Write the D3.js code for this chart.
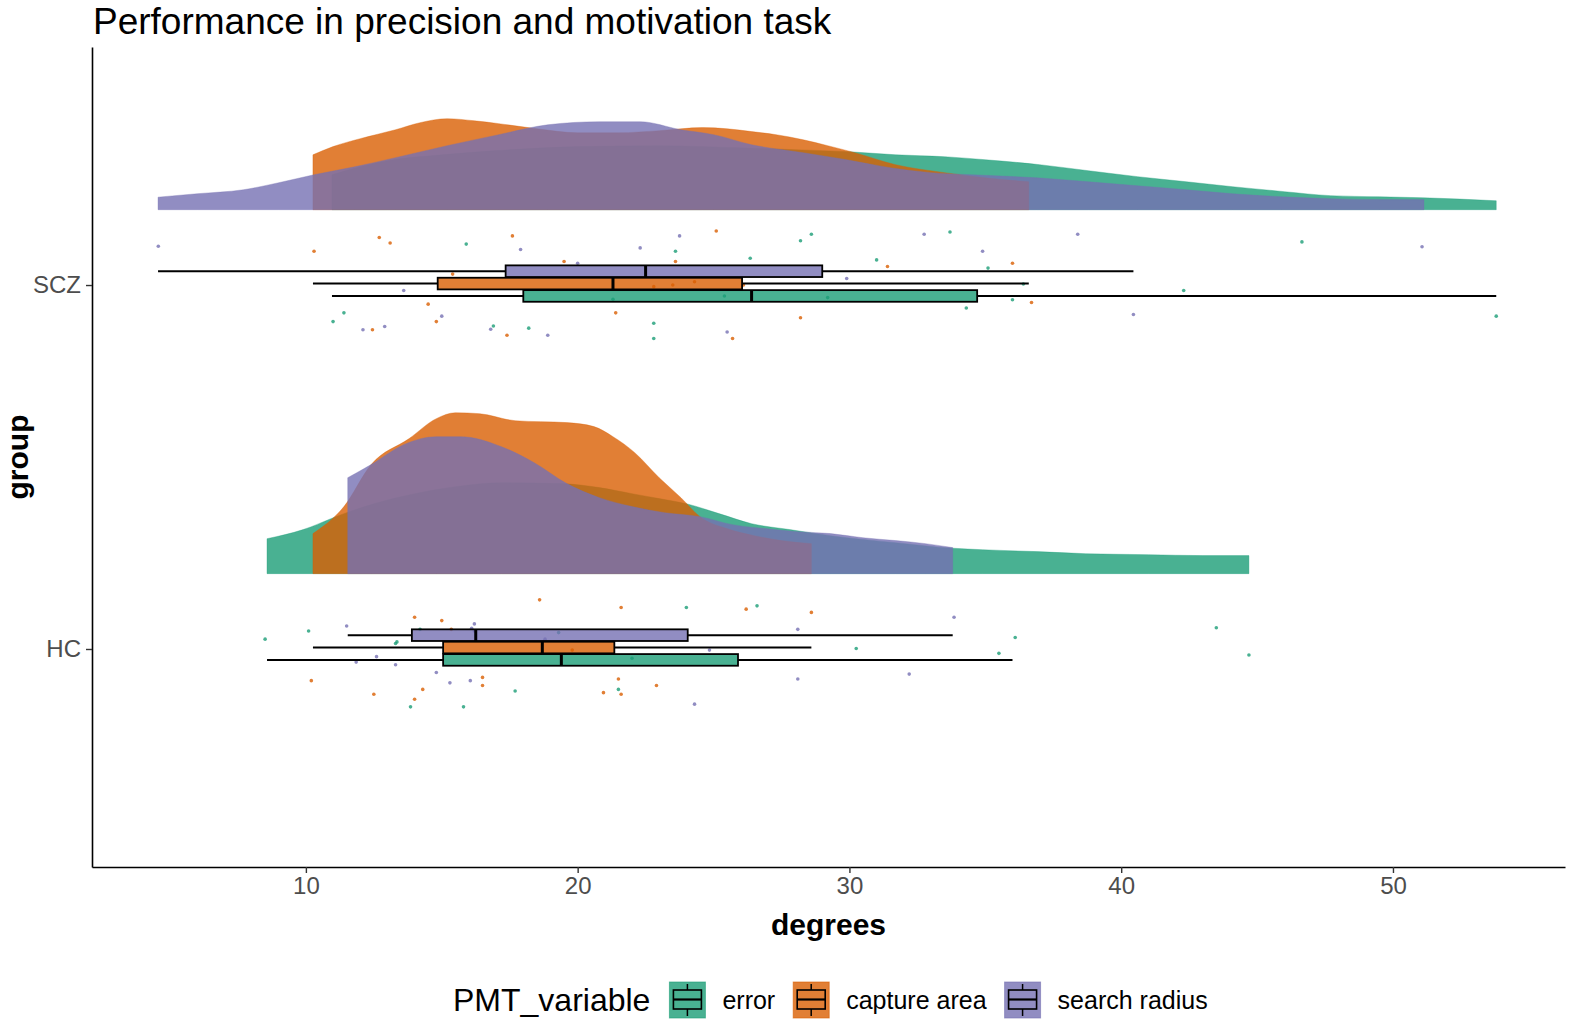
<!DOCTYPE html>
<html><head><meta charset="utf-8">
<script src="https://cdn.jsdelivr.net/npm/d3@7/dist/d3.min.js"></script>
<style>
body{margin:0;background:#fff}
svg{display:block}
text{font-family:"Liberation Sans",Arial,sans-serif}
</style>
</head><body>
<svg id="c" width="1579" height="1030"></svg>
<script>
// ---------- data ----------
const groups = ["HC", "SCZ"];
const variables = ["error", "capture area", "search radius"];
const colors = ["#1B9E77", "#D95F02", "#7570B3"];
const xTicks = [10, 20, 30, 40, 50];

// density knots: [degrees, density (% per degree)]
const densSCZ_error = [[10.96,1.84],[12,2.26],[13,2.58],[15,2.89],[17,3.11],[20,3.32],[23,3.37],[26,3.26],[28,3.16],[30,3.05],[31.7,2.89],[33.5,2.79],[35,2.63],[37,2.37],[38.8,2.05],[40.6,1.74],[42.4,1.47],[44.1,1.21],[46,0.95],[47.7,0.74],[49.5,0.68],[51.1,0.63],[53.8,0.47]];
const densSCZ_capture = [[10.26,2.89],[11,3.32],[12,3.74],[13.3,4.21],[14.2,4.58],[15.2,4.79],[16.2,4.68],[17.1,4.53],[18.5,4.26],[20,4.05],[21.5,4.05],[23,4.16],[24.6,4.32],[25.5,4.26],[26.4,4.11],[27.3,3.95],[28.3,3.68],[29.2,3.37],[30.2,3.00],[31.7,2.37],[33.5,1.95],[35,1.68],[36.6,1.47]];
const densSCZ_radius = [[4.56,0.66],[6,0.84],[7.7,1.05],[9,1.42],[10.3,1.84],[11.8,2.26],[13.3,2.74],[15.2,3.37],[17.1,3.95],[18.9,4.47],[20.8,4.63],[22.3,4.63],[23.8,4.21],[25,3.95],[26.4,3.42],[28.3,3.00],[29.9,2.63],[31.5,2.21],[33,1.95],[34.5,1.84],[36.9,1.68],[38.8,1.47],[40.6,1.26],[42.4,1.05],[44.1,0.84],[45.9,0.68],[47.7,0.58],[49.5,0.53],[51.14,0.53]];
const densHC_error = [[8.57,1.84],[9.9,2.32],[10.2,2.47],[11.1,3.00],[12.5,3.68],[14,4.21],[15.5,4.58],[17.2,4.79],[19.4,4.74],[20.8,4.53],[22,4.21],[23,3.95],[24,3.68],[25.2,3.16],[26.4,2.63],[27.8,2.32],[29.3,2.00],[31.7,1.63],[33.8,1.34],[34.9,1.26],[36.9,1.16],[38.7,1.05],[41,1.00],[43,0.95],[44.7,0.95]];
const densHC_capture = [[10.26,2.11],[11.4,3.53],[12.4,5.74],[13.8,7.11],[14.8,8.16],[15.5,8.47],[16.4,8.42],[17.7,8.05],[19.6,7.95],[20.6,7.74],[21.3,7.21],[22.1,6.37],[23.0,5.05],[23.8,4.00],[24.5,3.00],[25.5,2.37],[26.5,2.00],[27.5,1.74],[28.6,1.58]];
const densHC_radius = [[11.54,5.05],[12.4,5.74],[13.6,6.79],[14.8,7.21],[15.7,7.21],[17.2,6.68],[18.4,5.84],[19.6,4.74],[20.8,4.00],[22.0,3.53],[23.2,3.21],[24.5,3.00],[25.7,2.58],[26.9,2.37],[28.1,2.21],[29.3,2.11],[30.5,1.89],[31.7,1.74],[32.8,1.58],[33.8,1.37]];

// boxplot stats: [min, q1, median, q3, max]
const boxSCZ_error   = [10.96, 18.0, 26.4, 34.7, 53.8];
const boxSCZ_capture = [10.26, 14.85, 21.3, 26.05, 36.6];
const boxSCZ_radius  = [4.56, 17.35, 22.5, 29.0, 40.45];
const boxHC_error    = [8.57, 15.05, 19.4, 25.9, 36.0];
const boxHC_capture  = [10.26, 15.05, 18.7, 21.35, 28.6];
const boxHC_radius   = [11.54, 13.9, 16.25, 24.05, 33.8];

// raw observations: [degrees, jitter (-1..1)]
const ptsSCZ_error = [[15.9,0.75],[23.6,0.62],[11.4,-0.51],[11.0,-0.67],[16.9,-0.75],[18.2,-0.79],[22.8,-0.70],[22.8,-0.98],[21.3,-0.26],[28.2,0.81],[28.6,0.93],[33.7,0.97],[26.35,0.49],[31.0,0.46],[35.1,0.31],[36.4,0.02],[36.0,-0.27],[34.3,-0.42],[42.3,-0.10],[25.4,-0.20],[29.2,-0.23],[46.65,0.79],[53.8,-0.57]];
const ptsSCZ_capture = [[10.3,0.62],[12.7,0.87],[13.1,0.77],[17.6,0.90],[19.5,0.43],[23.6,0.43],[15.4,0.20],[14.5,-0.35],[12.45,-0.82],[14.8,-0.67],[17.4,-0.92],[21.4,-0.51],[22.8,-0.03],[23.5,0.0],[25.1,0.99],[31.4,0.34],[36.0,0.40],[36.7,-0.32],[28.2,-0.60],[25.7,-0.98],[24.3,0.06],[26.1,0.0]];
const ptsSCZ_radius = [[4.57,0.71],[17.9,0.65],[20.0,0.40],[22.3,0.68],[23.75,0.90],[13.6,-0.10],[12.1,-0.82],[12.9,-0.76],[15.0,-0.57],[16.8,-0.81],[18.9,-0.92],[32.75,0.93],[38.4,0.93],[34.9,0.62],[29.9,0.12],[25.5,-0.86],[40.45,-0.54],[51.07,0.70]];
const ptsHC_error = [[8.5,0.18],[10.1,0.33],[14.2,0.36],[24.0,0.76],[26.6,0.79],[19.3,0.30],[13.35,0.13],[13.3,0.10],[13.85,-1.06],[15.8,-1.06],[17.7,-0.77],[21.5,-0.74],[22.0,-0.17],[36.1,0.21],[30.25,0.01],[35.5,-0.08],[43.5,0.39],[44.7,-0.11]];
const ptsHC_capture = [[14.0,0.58],[15.0,0.52],[15.35,0.36],[18.6,0.90],[21.6,0.76],[26.2,0.73],[10.2,-0.58],[12.5,-0.83],[16.5,-0.52],[16.5,-0.67],[14.3,-0.74],[14.0,-0.92],[21.5,-0.55],[20.95,-0.80],[21.6,-0.83],[22.9,-0.67],[19.8,-0.02],[28.6,0.67]];
const ptsHC_radius = [[11.5,0.42],[16.1,0.38],[16.2,0.46],[16.2,0.33],[12.6,-0.14],[11.85,-0.24],[13.3,-0.29],[14.8,-0.43],[15.3,-0.62],[16.05,-0.58],[24.3,-1.01],[24.85,-0.02],[18.8,0.18],[33.85,0.58],[28.1,0.36],[28.1,-0.55],[32.2,-0.46]];

// ---------- assembly ----------
const series = [
  {g:"SCZ", v:0, dens:densSCZ_error,   box:boxSCZ_error,   pts:ptsSCZ_error},
  {g:"SCZ", v:1, dens:densSCZ_capture, box:boxSCZ_capture, pts:ptsSCZ_capture},
  {g:"SCZ", v:2, dens:densSCZ_radius,  box:boxSCZ_radius,  pts:ptsSCZ_radius},
  {g:"HC",  v:0, dens:densHC_error,    box:boxHC_error,    pts:ptsHC_error},
  {g:"HC",  v:1, dens:densHC_capture,  box:boxHC_capture,  pts:ptsHC_capture},
  {g:"HC",  v:2, dens:densHC_radius,   box:boxHC_radius,   pts:ptsHC_radius}
];

const svg = d3.select("#c");
const M = {l:92, r:1565, t:47, b:867};

const x = d3.scaleLinear().domain([2.13, 56.33]).range([M.l, M.r]);
const y = d3.scaleLinear().domain([0.401, 2.654]).range([M.b, M.t]);
const gpos = g => groups.indexOf(g) + 1;
const dens = d3.scaleLinear().domain([0, 1]).range([0, 19/364]);
const cloudNudge = 0.207, jitterW = 0.15, dodgeStep = 0.034, boxHalf = 0.016, boxShift = 0.004;
const alpha = 0.8;

// clouds
const gClouds = svg.append("g");
series.forEach(s => {
  const base = gpos(s.g) + cloudNudge;
  const area = d3.area()
    .x(d => x(d[0]))
    .y0(() => y(base))
    .y1(d => y(base + dens(d[1])))
    .curve(d3.curveMonotoneX);
  gClouds.append("path")
    .datum(s.dens)
    .attr("d", area)
    .attr("fill", colors[s.v])
    .attr("fill-opacity", alpha)
    .attr("stroke", colors[s.v])
    .attr("stroke-opacity", 0.35)
    .attr("stroke-width", 1);
});

// rain (points)
const gPts = svg.append("g");
series.forEach(s => {
  gPts.selectAll(null).data(s.pts).join("circle")
    .attr("cx", d => x(d[0]))
    .attr("cy", d => y(gpos(s.g) + d[1] * jitterW))
    .attr("r", 1.8)
    .attr("fill", colors[s.v])
    .attr("fill-opacity", 0.8);
});

// boxplots
const gBox = svg.append("g");
series.forEach(s => {
  const c = gpos(s.g) + boxShift + (s.v - 1) * dodgeStep;
  const [mn, q1, md, q3, mx] = s.box;
  gBox.append("line")
    .attr("x1", x(mn)).attr("x2", x(q1)).attr("y1", y(c)).attr("y2", y(c))
    .attr("stroke", "#000").attr("stroke-width", 2);
  gBox.append("line")
    .attr("x1", x(q3)).attr("x2", x(mx)).attr("y1", y(c)).attr("y2", y(c))
    .attr("stroke", "#000").attr("stroke-width", 2);
  gBox.append("rect")
    .attr("x", x(q1)).attr("width", x(q3) - x(q1))
    .attr("y", y(c + boxHalf)).attr("height", y(c - boxHalf) - y(c + boxHalf))
    .attr("fill", colors[s.v]).attr("fill-opacity", alpha)
    .attr("stroke", "#000").attr("stroke-width", 1.8);
  gBox.append("line")
    .attr("x1", x(md)).attr("x2", x(md))
    .attr("y1", y(c + boxHalf)).attr("y2", y(c - boxHalf))
    .attr("stroke", "#000").attr("stroke-width", 3);
});

// axes
const xAxis = d3.axisBottom(x).tickValues(xTicks).tickSize(6).tickSizeOuter(0).tickPadding(4);
const gx = svg.append("g").attr("transform", `translate(0,${M.b})`).call(xAxis);
const yAxis = d3.axisLeft(y).tickValues([1, 2]).tickFormat(d => groups[d - 1]).tickSize(6).tickSizeOuter(0).tickPadding(5);
const gy = svg.append("g").attr("transform", `translate(${M.l},0)`).call(yAxis);
[gx, gy].forEach(g => {
  g.select(".domain").attr("stroke", "#000").attr("stroke-width", 1.6);
  g.selectAll(".tick line").attr("stroke", "#333").attr("stroke-width", 1.4);
  g.selectAll(".tick text").attr("fill", "#4D4D4D").style("font-size", "24px")
    .style("font-family", '"Liberation Sans", Arial, sans-serif');
});

// titles
svg.append("text").attr("x", 93).attr("y", 34)
  .style("font-size", "37px").attr("fill", "#000")
  .text("Performance in precision and motivation task");
svg.append("text").attr("x", (M.l + M.r) / 2).attr("y", 935)
  .attr("text-anchor", "middle").style("font-size", "30px").style("font-weight", "bold")
  .text("degrees");
svg.append("text").attr("transform", `translate(28,${(M.t + M.b) / 2}) rotate(-90)`)
  .attr("text-anchor", "middle").style("font-size", "30px").style("font-weight", "bold")
  .text("group");

// legend
const lg = svg.append("g");
const legTitle = lg.append("text").attr("x", 453).attr("y", 1011)
  .style("font-size", "32px").text("PMT_variable");
let kx = 453 + legTitle.node().getComputedTextLength() + 19;
const ky = 982, ks = 36;
variables.forEach((v, i) => {
  const k = lg.append("g").attr("transform", `translate(${kx},${ky})`);
  k.append("rect").attr("width", ks).attr("height", ks)
    .attr("fill", colors[i]).attr("fill-opacity", alpha)
    .attr("stroke", colors[i]).attr("stroke-opacity", 0.6).attr("stroke-width", 1);
  k.append("line").attr("x1", ks/2).attr("x2", ks/2).attr("y1", 2).attr("y2", 8).attr("stroke", "#000").attr("stroke-width", 1.5);
  k.append("line").attr("x1", ks/2).attr("x2", ks/2).attr("y1", 27).attr("y2", 34).attr("stroke", "#000").attr("stroke-width", 1.5);
  k.append("rect").attr("x", 4).attr("y", 8).attr("width", ks - 8).attr("height", 19)
    .attr("fill", "none").attr("stroke", "#000").attr("stroke-width", 1.6);
  k.append("line").attr("x1", 4).attr("x2", ks - 4).attr("y1", 17.5).attr("y2", 17.5).attr("stroke", "#000").attr("stroke-width", 2.2);
  const t = lg.append("text").attr("x", kx + 53).attr("y", 1009)
    .style("font-size", "25px").text(v);
  kx = kx + 53 + t.node().getComputedTextLength() + 18;
});
</script>
</body></html>
